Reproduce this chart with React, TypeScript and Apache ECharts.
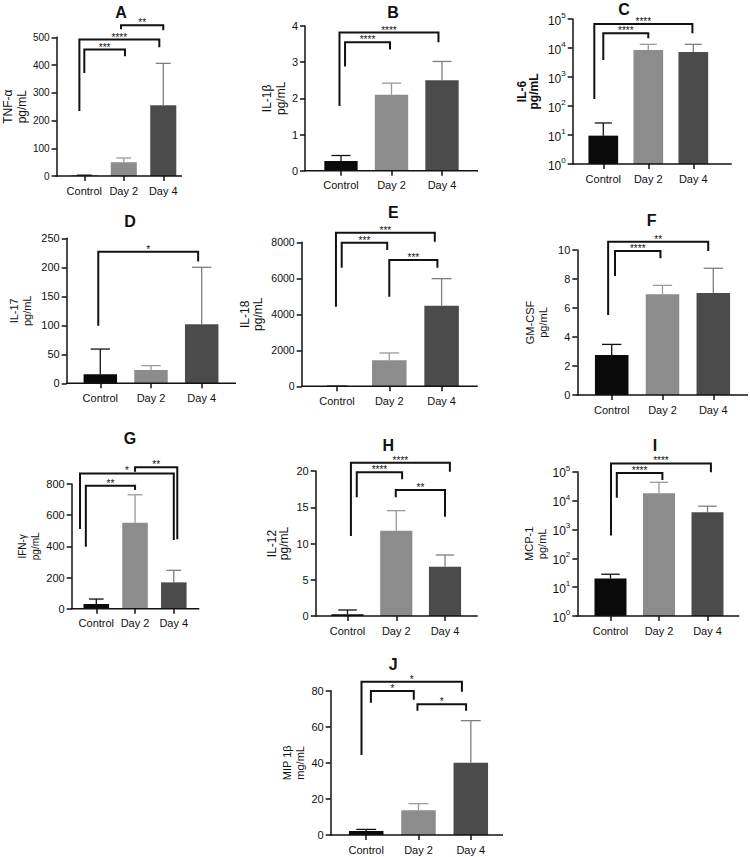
import React, { useEffect, useRef } from 'react';
import * as echarts from 'echarts';

const FONT = '"Liberation Sans", Arial, Helvetica, sans-serif';

const categories = ['Control', 'Day 2', 'Day 4'];

// mean and mean+SD (top of error bar) for each group
const tnfMean = [1.5, 50, 255];
const tnfUpper = [3, 65, 406];
const il1bMean = [0.27, 2.1, 2.5];
const il1bUpper = [0.42, 2.42, 3.02];
const il6Mean = [9.5, 8500, 7300];
const il6Upper = [26, 13400, 13400];
const il17Mean = [15.5, 23, 101.7];
const il17Upper = [59, 30.5, 200];
const il18Mean = [5, 1444, 4481];
const il18Upper = [10, 1852, 5981];
const gmcsfMean = [2.76, 6.94, 7.03];
const gmcsfUpper = [3.49, 7.56, 8.74];
const ifngMean = [30, 552, 169];
const ifngUpper = [62, 731, 246];
const il12Mean = [0.23, 11.77, 6.8];
const il12Upper = [0.83, 14.53, 8.41];
const mcp1Mean = [19.9, 17900, 3960];
const mcp1Upper = [28, 42900, 6380];
const mip1bMean = [2.2, 13.7, 40.1];
const mip1bUpper = [3.1, 17.4, 63.4];

// significance brackets: [left leg (category units), right leg, bracket level, left leg end, right leg end, label]
const tnfBrackets = [
  [0, 1.03, 456, 371, 432, '***'],
  [-0.125, 1.9, 492, 234, 464, '****'],
  [0.93, 2.0, 543, 529, 525, '**'],
];
const il1bBrackets = [
  [0.08, 0.97, 3.55, 2.88, 3.35, '****'],
  [-0.03, 1.93, 3.82, 1.79, 3.55, '****'],
];
const il6Brackets = [
  [0, 1.0, 32100, 3860, 21600, '****'],
  [-0.2, 1.98, 67300, 174, 32100, '****'],
];
const il17Brackets = [
  [-0.04, 1.93, 227, 99.4, 209.8, '*'],
];
const il18Brackets = [
  [-0.02, 1.87, 8537, 4426, 8037, '***'],
  [0.09, 0.96, 7981, 6593, 7574, '***'],
  [1.0, 1.92, 7019, 4981, 6593, '***'],
];
const gmcsfBrackets = [
  [-0.07, 1.9, 10.57, 5.52, 9.93, '**'],
  [0.065, 0.96, 9.93, 8.21, 9.43, '****'],
];
const ifngBrackets = [
  [-0.42, 2.0, 868, 511, 441, '*'],
  [-0.27, 1.0, 789, 398, 761, '**'],
  [1.0, 2.09, 907, 879, 445, '**'],
];
const il12Brackets = [
  [0.07, 2.1, 21.15, 11.03, 19.91, '****'],
  [0.19, 1.12, 19.82, 16.37, 18.85, '****'],
  [0.99, 2.0, 17.38, 16.37, 13.7, '**'],
];
const mcp1Brackets = [
  [0.01, 2.07, 193800, 621, 94800, '****'],
  [0.13, 1.07, 89900, 12400, 51600, '****'],
];
const mip1bBrackets = [
  [-0.09, 1.83, 85, 44.3, 79.4, '*'],
  [0.09, 0.91, 79.8, 73.3, 75, '*'],
  [0.98, 1.91, 72.5, 68.9, 68.9, '*'],
];

const barColors = ['#0a0a0a', '#8c8c8c', '#4b4b4b'];
const errColors = ['#111111', '#9a9a9a', '#7e7e7e'];
const INK = '#111111';

const panels = [
  { letter: 'A', mean: tnfMean, upper: tnfUpper, brackets: tnfBrackets, name: 'TNF-α\npg/mL', log: false, max: 500, interval: 100,
    c0: 83, band: 40, axisX: 55, top: 37.3, bottom: 176, axisEnd: 182, tx: 121, ty: 12, nameGap: 26.5, nameSize: 12, nameLH: 14, bold: false, ySize: 10 },
  { letter: 'B', mean: il1bMean, upper: il1bUpper, brackets: il1bBrackets, name: 'IL-1β\npg/mL', log: false, max: 4, interval: 1,
    c0: 341, band: 50.5, axisX: 305, top: 26, bottom: 170.7, axisEnd: 478, tx: 393, ty: 12, nameGap: 16.8, nameSize: 12, nameLH: 14, bold: false, ySize: 11 },
  { letter: 'C', mean: il6Mean, upper: il6Upper, brackets: il6Brackets, name: 'IL-6\npg/mL', log: true, max: 100000, interval: 1,
    c0: 603.3, band: 45, axisX: 572.7, top: 19, bottom: 164, axisEnd: 731.7, tx: 624, ty: 9.3, nameGap: 32.5, nameSize: 12, nameLH: 12, bold: true, ySize: 11 },
  { letter: 'D', mean: il17Mean, upper: il17Upper, brackets: il17Brackets, name: 'IL-17\npg/mL', log: false, max: 250, interval: 50,
    c0: 100.3, band: 50.7, axisX: 66.7, top: 238.3, bottom: 383.3, axisEnd: 236, tx: 130, ty: 221.7, nameGap: 33.7, nameSize: 11, nameLH: 13, bold: false, ySize: 11 },
  { letter: 'E', mean: il18Mean, upper: il18Upper, brackets: il18Brackets, name: 'IL-18\npg/mL', log: false, max: 8000, interval: 2000,
    c0: 337, band: 52.3, axisX: 301.7, top: 242.3, bottom: 386.3, axisEnd: 477.7, tx: 393.3, ty: 212.7, nameGap: 37.5, nameSize: 12, nameLH: 13, bold: false, ySize: 10.5 },
  { letter: 'F', mean: gmcsfMean, upper: gmcsfUpper, brackets: gmcsfBrackets, name: 'GM-CSF\npg/mL', log: false, max: 10, interval: 2,
    c0: 611.7, band: 50.8, axisX: 577.3, top: 250, bottom: 395, axisEnd: 748, tx: 651.7, ty: 220.7, nameGap: 27.6, nameSize: 11, nameLH: 13, bold: false, ySize: 11 },
  { letter: 'G', mean: ifngMean, upper: ifngUpper, brackets: ifngBrackets, name: 'IFN-γ\npg/mL', log: false, max: 800, interval: 200,
    c0: 96.3, band: 38.75, axisX: 71.7, top: 484, bottom: 608.7, axisEnd: 199.3, tx: 130, ty: 438.3, nameGap: 25.4, nameSize: 10, nameLH: 13, bold: false, ySize: 11 },
  { letter: 'H', mean: il12Mean, upper: il12Upper, brackets: il12Brackets, name: 'IL-12\npg/mL', log: false, max: 20, interval: 5,
    c0: 347.5, band: 48.75, axisX: 315.7, top: 471, bottom: 616, axisEnd: 477.7, tx: 388.3, ty: 445, nameGap: 26.2, nameSize: 12, nameLH: 12, bold: false, ySize: 11 },
  { letter: 'I', mean: mcp1Mean, upper: mcp1Upper, brackets: mcp1Brackets, name: 'MCP-1\npg/mL', log: true, max: 100000, interval: 1,
    c0: 610.5, band: 48.5, axisX: 577.3, top: 471.7, bottom: 616, axisEnd: 739.3, tx: 655, ty: 445, nameGap: 29.3, nameSize: 11, nameLH: 13, bold: false, ySize: 11 },
  { letter: 'J', mean: mip1bMean, upper: mip1bUpper, brackets: mip1bBrackets, name: 'MIP 1β\nmg/mL', log: false, max: 80, interval: 20,
    c0: 366.2, band: 52.3, axisX: 330.7, top: 690.7, bottom: 835, axisEnd: 503, tx: 393.3, ty: 664.3, nameGap: 24.4, nameSize: 11, nameLH: 13, bold: false, ySize: 11 },
];

function buildOption(): any {
  const grid: any[] = [];
  const xAxis: any[] = [];
  const yAxis: any[] = [];
  const series: any[] = [];
  const graphic: any[] = [];

  panels.forEach((p: any, i: number) => {
    const left = p.c0 - p.band / 2;
    const width = p.band * 3;
    const yOff = left - p.axisX;
    const rExt = p.axisEnd - (left + width);
    grid.push({ left, top: p.top, width, height: p.bottom - p.top, containLabel: false });

    xAxis.push({
      gridIndex: i,
      type: 'category',
      data: categories,
      axisLine: { show: false },
      axisTick: { show: true, alignWithLabel: true, length: 5, lineStyle: { color: INK, width: 1.5 } },
      axisLabel: { interval: 0, fontSize: 11, color: INK, margin: 9, fontFamily: FONT },
      splitLine: { show: false },
    });

    const yLabel = p.log
      ? {
          fontFamily: FONT,
          margin: 7,
          formatter: (v: number) => `{b|10}{s|${Math.round(Math.log10(v))}}`,
          rich: {
            b: { fontSize: 12, lineHeight: 15, verticalAlign: 'bottom', color: INK, fontFamily: FONT },
            s: { fontSize: 8, lineHeight: 8, verticalAlign: 'top', color: INK, fontFamily: FONT },
          },
        }
      : {
          fontSize: p.ySize,
          color: INK,
          margin: 7,
          fontFamily: FONT,
          formatter: (v: number) => String(v),
        };

    yAxis.push({
      gridIndex: i,
      type: p.log ? 'log' : 'value',
      logBase: 10,
      min: p.log ? 1 : 0,
      max: p.max,
      interval: p.log ? undefined : p.interval,
      splitNumber: p.log ? 5 : undefined,
      offset: yOff,
      name: p.name,
      nameLocation: 'middle',
      nameGap: p.nameGap,
      nameTextStyle: {
        fontSize: p.nameSize,
        lineHeight: p.nameLH,
        color: INK,
        fontFamily: FONT,
        fontWeight: p.bold ? 'bold' : 'normal',
      },
      axisLine: { show: true, lineStyle: { color: INK, width: 1.5 } },
      axisTick: { show: true, length: 5, lineStyle: { color: INK, width: 1.5 } },
      minorTick: { show: false },
      axisLabel: yLabel,
      splitLine: { show: false },
    });

    series.push({
      type: 'bar',
      xAxisIndex: i,
      yAxisIndex: i,
      barWidth: '66%',
      z: 2,
      data: p.mean.map((v: number, k: number) => ({ value: v, itemStyle: { color: barColors[k] } })),
    });

    series.push({
      type: 'custom',
      xAxisIndex: i,
      yAxisIndex: i,
      clip: false,
      z: 3,
      data: p.mean.map((m: number, k: number) => [k, p.upper[k]]),
      encode: { x: 0, y: 1 },
      renderItem: (params: any, api: any) => {
        const k = params.dataIndex;
        const m = p.mean[k];
        const u = p.upper[k];
        const p0 = api.coord([k, m]);
        const p1 = api.coord([k, u]);
        const bw = api.coord([1, u])[0] - api.coord([0, u])[0];
        const half = bw * 0.19;
        const col = errColors[k];
        return {
          type: 'group',
          children: [
            { type: 'line', shape: { x1: p0[0], y1: p0[1], x2: p1[0], y2: p1[1] }, style: { stroke: col, lineWidth: 1.3 } },
            { type: 'line', shape: { x1: p1[0] - half, y1: p1[1], x2: p1[0] + half, y2: p1[1] }, style: { stroke: col, lineWidth: 1.3 } },
          ],
        };
      },
    });

    series.push({
      type: 'custom',
      xAxisIndex: i,
      yAxisIndex: i,
      clip: false,
      z: 4,
      data: p.brackets.map((b: any) => [0, b[2]]),
      encode: { x: 0, y: 1 },
      renderItem: (params: any, api: any) => {
        const b = p.brackets[params.dataIndex];
        const lvl = b[2];
        const c0 = api.coord([0, lvl]);
        const c1 = api.coord([1, lvl]);
        const bw = c1[0] - c0[0];
        const X = (q: number) => c0[0] + q * bw;
        const yL = c0[1];
        const yLb = api.coord([0, b[3]])[1];
        const yRb = api.coord([0, b[4]])[1];
        const xl = X(b[0]);
        const xr = X(b[1]);
        return {
          type: 'group',
          children: [
            {
              type: 'polyline',
              shape: { points: [[xl, yLb], [xl, yL], [xr, yL], [xr, yRb]] },
              style: { stroke: INK, lineWidth: 2, fill: 'none' },
            },
            {
              type: 'text',
              x: (xl + xr) / 2,
              y: yL - 2.5,
              style: {
                text: b[5],
                fill: INK,
                fontSize: 10,
                fontFamily: FONT,
                align: 'center',
                verticalAlign: 'middle',
                textAlign: 'center',
                textVerticalAlign: 'middle',
              },
            },
          ],
        };
      },
    });

    series.push({
      type: 'custom',
      xAxisIndex: i,
      yAxisIndex: i,
      clip: false,
      z: 5,
      data: [[0, p.max]],
      encode: { x: 0, y: 1 },
      renderItem: (params: any) => {
        const cs = params.coordSys;
        const y = cs.y + cs.height;
        return {
          type: 'line',
          shape: { x1: cs.x - yOff - 0.75, y1: y, x2: cs.x + cs.width + rExt, y2: y },
          style: { stroke: INK, lineWidth: 1.5 },
        };
      },
    });

    graphic.push({
      type: 'text',
      x: p.tx,
      y: p.ty,
      style: {
        text: p.letter,
        fill: INK,
        fontSize: 16,
        fontWeight: 'bold',
        fontFamily: FONT,
        align: 'center',
        verticalAlign: 'middle',
        textAlign: 'center',
        textVerticalAlign: 'middle',
      },
    });
  });

  return {
    animation: false,
    backgroundColor: '#ffffff',
    textStyle: { fontFamily: FONT },
    grid,
    xAxis,
    yAxis,
    series,
    graphic,
  };
}

export default function App() {
  const ref = useRef<HTMLDivElement>(null);
  useEffect(() => {
    if (!ref.current) return;
    const chart = echarts.init(ref.current, undefined, { renderer: 'svg' });
    chart.setOption(buildOption());
    return () => chart.dispose();
  }, []);
  return (
    <div
      ref={ref}
      style={{ position: 'absolute', left: 0, top: 0, width: 750, height: 857, background: '#ffffff' }}
    />
  );
}
